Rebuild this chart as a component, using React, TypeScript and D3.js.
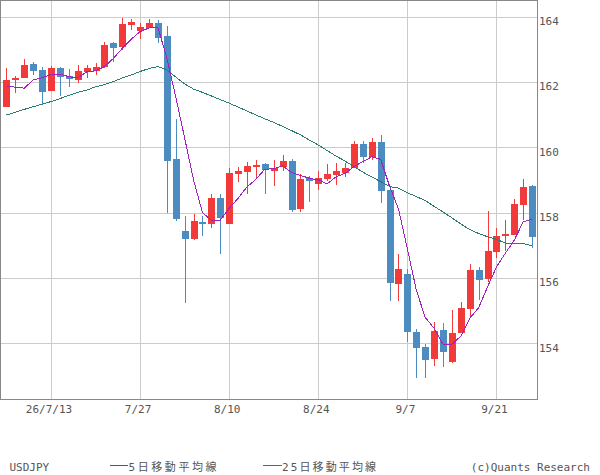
import * as d3 from 'd3'

// trading days (weekdays), 2026
const dates = [
  '7/6', '7/7', '7/8', '7/9', '7/10', '7/13', '7/14', '7/15', '7/16', '7/17',
  '7/20', '7/21', '7/22', '7/23', '7/24', '7/27', '7/28', '7/29', '7/30', '7/31',
  '8/3', '8/4', '8/5', '8/6', '8/7', '8/10', '8/11', '8/12', '8/13', '8/14',
  '8/17', '8/18', '8/19', '8/20', '8/21', '8/24', '8/25', '8/26', '8/27', '8/28',
  '8/31', '9/1', '9/2', '9/3', '9/4', '9/7', '9/8', '9/9', '9/10', '9/11',
  '9/14', '9/15', '9/16', '9/17', '9/18', '9/21', '9/22', '9/23', '9/24', '9/25',
]

const open = [
  161.24, 162.06, 162.13, 162.55, 162.37, 161.73, 162.44, 162.18, 162.06, 162.3,
  162.34, 162.47, 163.18, 163.08, 163.74, 163.57, 163.66, 163.79, 163.41, 159.64,
  157.44, 157.19, 157.71, 157.66, 158.45, 157.66, 159.19, 159.25, 159.41, 159.5,
  159.28, 159.41, 159.58, 158.11, 159.05, 158.87, 159.03, 159.15, 159.22, 159.38,
  160.1, 159.69, 160.16, 158.69, 155.82, 156.12, 154.35, 153.88, 153.53, 154.41,
  153.44, 154.32, 155.05, 156.23, 155.98, 156.79, 157.29, 157.32, 158.24, 158.81,
]
const high = [
  162.42, 162.18, 162.7, 162.61, 162.47, 162.49, 162.47, 162.4, 162.52, 162.52,
  162.59, 163.23, 163.23, 163.95, 163.93, 163.79, 163.93, 163.9, 163.71, 160.87,
  157.9, 157.96, 157.9, 158.57, 158.57, 159.38, 159.4, 159.55, 159.61, 159.53,
  159.61, 159.77, 159.64, 159.18, 159.12, 159.27, 159.5, 159.51, 159.53, 160.2,
  160.2, 160.28, 160.38, 158.71, 156.73, 156.27, 154.44, 153.98, 154.65, 154.62,
  155.02, 155.26, 156.43, 156.34, 158.06, 157.52, 157.77, 158.42, 159.03, 158.85,
]
const low = [
  161.22, 161.67, 162.12, 162.21, 161.29, 161.72, 161.57, 161.84, 161.98, 162.13,
  162.21, 162.42, 162.62, 162.98, 163.59, 163.31, 163.65, 163.2, 158.0, 157.74,
  155.24, 157.16, 157.28, 157.54, 156.73, 157.65, 158.94, 158.58, 159.05, 158.58,
  158.82, 159.28, 158.03, 158.03, 158.33, 158.69, 158.98, 158.85, 159.1, 159.36,
  159.51, 159.61, 158.29, 155.3, 155.3, 154.05, 152.93, 152.95, 153.31, 153.27,
  153.39, 154.3, 154.81, 155.33, 155.89, 156.6, 156.83, 157.3, 157.77, 156.93,
]
const close = [
  162.06, 162.13, 162.52, 162.34, 161.7, 162.42, 162.16, 162.09, 162.34, 162.43,
  162.47, 163.13, 163.05, 163.77, 163.84, 163.69, 163.8, 163.35, 159.59, 157.8,
  157.18, 157.74, 157.66, 158.45, 157.84, 159.22, 159.27, 159.43, 159.47, 159.31,
  159.38, 159.58, 158.08, 159.03, 158.98, 159.05, 159.18, 159.27, 159.37, 160.1,
  159.71, 160.16, 158.67, 155.86, 156.27, 154.36, 153.87, 153.5, 154.38, 153.74,
  154.31, 155.07, 156.24, 155.95, 156.83, 157.28, 157.35, 158.26, 158.78, 157.26,
]

// moving averages
const ma5 = [
  161.88, 161.84, 161.81, 162.06, 162.13, 162.23, 162.24, 162.16, 162.12, 162.31,
  162.34, 162.47, 162.72, 163.03, 163.31, 163.54, 163.65, 163.67, 162.73, 161.54,
  160.28, 159.0, 158.0, 157.77, 157.77, 158.13, 158.44, 158.79, 159.02, 159.33,
  159.34, 159.43, 159.23, 159.14, 159.05, 159.0, 158.88, 159.1, 159.2, 159.41,
  159.56, 159.71, 159.63, 158.81, 158.11, 156.89, 155.63, 154.79, 154.46, 153.97,
  153.97, 154.22, 154.77, 155.09, 155.73, 156.34, 156.76, 157.16, 157.72, 157.8,
]
const ma25 = [
  160.99, 161.07, 161.16, 161.24, 161.32, 161.4, 161.49, 161.59, 161.68, 161.75,
  161.85, 161.92, 162.01, 162.12, 162.21, 162.32, 162.41, 162.47, 162.37, 162.15,
  161.94, 161.78, 161.68, 161.57, 161.46, 161.35, 161.23, 161.11, 160.99, 160.87,
  160.76, 160.64, 160.51, 160.38, 160.22, 160.07, 159.9, 159.73, 159.58, 159.41,
  159.24, 159.09, 158.95, 158.8, 158.75, 158.61, 158.49, 158.37, 158.19, 158.02,
  157.84, 157.65, 157.48, 157.36, 157.26, 157.18, 157.07, 157.06, 157.05, 156.99,
]

const tickDates = ['7/13', '7/27', '8/10', '8/24', '9/7', '9/21']
const tickLabels = ['26/7/13', '7/27', '8/10', '8/24', '9/7', '9/21']
const priceTicks = [154, 156, 158, 160, 162, 164]

const UP = '#f23a3a'
const DOWN = '#4d8cc0'
const MA5_COLOR = '#a020c0'
const MA25_COLOR = '#2a7b72'
const FONT = "'DejaVu Sans Mono', 'Noto Sans CJK JP', monospace"

export default function App() {
  const W = 600
  const H = 475
  const plot = { left: 0, top: 0, right: 537, bottom: 399 }

  const x = d3.scaleBand<string>().domain(dates).range([2.9, 535.7]).paddingInner(0.2)
  const cx = (d: string) => (x(d) ?? 0) + x.bandwidth() / 2

  const y = d3.scaleLinear().domain([152.295, 164.508]).range([plot.bottom, plot.top])

  const candles = dates.map((d, i) => ({ d, o: open[i], h: high[i], l: low[i], c: close[i] }))

  const line = d3
    .line<number>()
    .x((_, i) => cx(dates[i]))
    .y((v) => y(v))

  return (
    <svg
      width={W}
      height={H}
      style={{ position: 'absolute', left: 0, top: 0, background: '#fff' }}
      fontFamily={FONT}
    >
      {/* grid */}
      <g stroke="#cccccc" shapeRendering="crispEdges">
        {priceTicks.map((t) => (
          <line key={t} x1={plot.left} x2={plot.right} y1={Math.round(y(t)) + 0.5} y2={Math.round(y(t)) + 0.5} />
        ))}
        {tickDates.map((t) => (
          <line key={t} x1={Math.round(cx(t)) + 0.5} x2={Math.round(cx(t)) + 0.5} y1={plot.top} y2={plot.bottom} />
        ))}
      </g>

      {/* candles */}
      <g shapeRendering="crispEdges">
        {candles.map((k) => {
          const col = k.c >= k.o ? UP : DOWN
          const xc = Math.round(cx(k.d))
          const top = y(Math.max(k.o, k.c))
          const bot = y(Math.min(k.o, k.c))
          return (
            <g key={k.d}>
              <line x1={xc + 0.5} x2={xc + 0.5} y1={y(k.h)} y2={y(k.l)} stroke={col} />
              <rect x={xc - 3} y={top} width={7} height={Math.max(1, bot - top)} fill={col} />
            </g>
          )
        })}
      </g>

      {/* moving averages */}
      <path d={line(ma25) ?? ''} fill="none" stroke={MA25_COLOR} strokeWidth={1} shapeRendering="crispEdges" />
      <path d={line(ma5) ?? ''} fill="none" stroke={MA5_COLOR} strokeWidth={1} shapeRendering="crispEdges" />

      {/* frame */}
      <rect
        x={plot.left + 0.5}
        y={plot.top + 0.5}
        width={plot.right - plot.left}
        height={plot.bottom - plot.top - 0.5}
        fill="none"
        stroke="#888888"
        shapeRendering="crispEdges"
      />

      {/* y labels */}
      <g fill="#555" fontSize={11}>
        {priceTicks.map((t) => (
          <text key={t} x={plot.right + 2} y={y(t) + 8.5}>
            {t}
          </text>
        ))}
      </g>

      {/* x labels */}
      <g fill="#555" fontSize={11} textAnchor="middle">
        {tickDates.map((t, i) => (
          <text key={t} x={cx(t) - 2} y={412.5}>
            {tickLabels[i]}
          </text>
        ))}
      </g>

      {/* legend */}
      <g fill="#555" fontSize={11}>
        <text x={9.5} y={470.5}>USDJPY</text>
        <line x1={110} x2={128} y1={465.5} y2={465.5} stroke={MA5_COLOR} shapeRendering="crispEdges" />
        <text x={128.5} y={470.5} textLength={88} lengthAdjust="spacing">5日移動平均線</text>
        <line x1={263} x2={281.5} y1={465.5} y2={465.5} stroke={MA25_COLOR} shapeRendering="crispEdges" />
        <text x={282} y={470.5} textLength={94} lengthAdjust="spacing">25日移動平均線</text>
        <text x={590} y={470.5} textAnchor="end">(c)Quants Research</text>
      </g>
    </svg>
  )
}
